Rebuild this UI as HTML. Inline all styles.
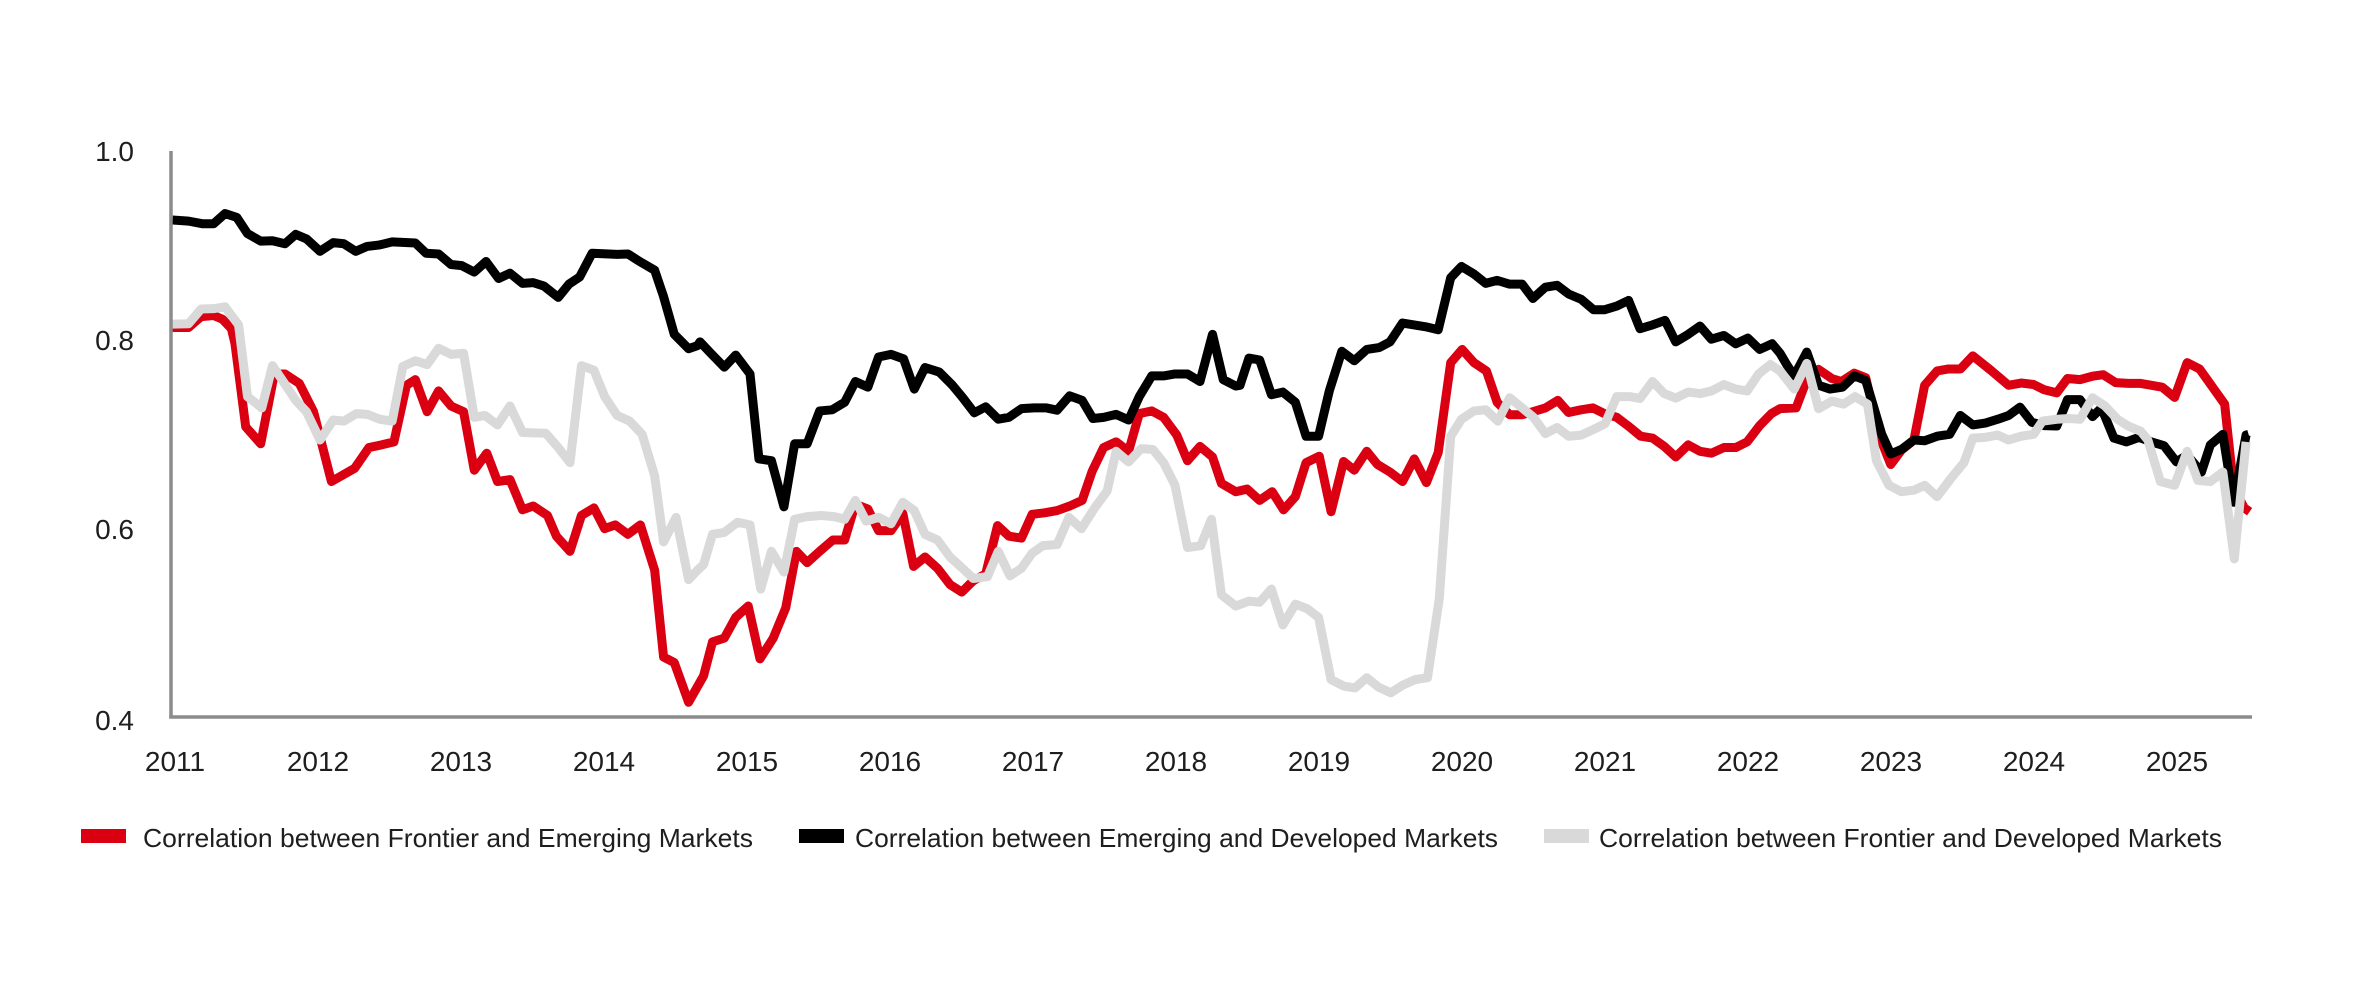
<!DOCTYPE html>
<html>
<head>
<meta charset="utf-8">
<style>
  html, body { margin: 0; padding: 0; background: #ffffff; }
  body { width: 2379px; height: 1001px; overflow: hidden; }
  svg { display: block; }
  text { font-family: "Liberation Sans", "DejaVu Sans", sans-serif; fill: #1e1e1e; }
</style>
</head>
<body>
<svg width="2379" height="1001" viewBox="0 0 2379 1001" xmlns="http://www.w3.org/2000/svg">
  <rect x="0" y="0" width="2379" height="1001" fill="#ffffff"/>

  <!-- Y axis labels -->
  <g font-size="28" text-anchor="end">
    <text x="134" y="161">1.0</text>
    <text x="134" y="350">0.8</text>
    <text x="134" y="539">0.6</text>
    <text x="134" y="730">0.4</text>
  </g>

  <!-- X axis labels -->
  <g font-size="28" text-anchor="middle">
    <text x="175" y="771">2011</text>
    <text x="318" y="771">2012</text>
    <text x="461" y="771">2013</text>
    <text x="604" y="771">2014</text>
    <text x="747" y="771">2015</text>
    <text x="890" y="771">2016</text>
    <text x="1033" y="771">2017</text>
    <text x="1176" y="771">2018</text>
    <text x="1319" y="771">2019</text>
    <text x="1462" y="771">2020</text>
    <text x="1605" y="771">2021</text>
    <text x="1748" y="771">2022</text>
    <text x="1891" y="771">2023</text>
    <text x="2034" y="771">2024</text>
    <text x="2177" y="771">2025</text>
  </g>

  <!-- Series -->
  <g transform="translate(160,140) scale(0.357143,0.377358)" fill="none" stroke-linejoin="round" stroke-linecap="butt">
    <polyline vector-effect="non-scaling-stroke" stroke="#da0012" stroke-width="9" points="35,497 80,497 115,468 150,465 175,475 200,500 210,540 240,760 282,805 320,620 350,620 390,645 430,720 480,905 545,870 585,815 620,808 655,800 690,650 715,635 748,720 780,665 815,705 850,720 880,875 915,830 945,905 980,900 1015,980 1045,970 1085,995 1110,1050 1148,1090 1180,995 1215,975 1245,1030 1275,1020 1310,1045 1345,1020 1385,1140 1410,1370 1440,1385 1480,1490 1522,1420 1547,1330 1580,1320 1612,1265 1647,1235 1680,1375 1717,1320 1752,1240 1782,1090 1812,1120 1847,1090 1884,1060 1917,1060 1947,965 1982,978 2012,1035 2047,1035 2080,990 2110,1130 2142,1105 2177,1135 2212,1178 2245,1198 2277,1168 2312,1150 2345,1022 2377,1050 2412,1055 2442,992 2477,988 2512,982 2547,970 2582,955 2610,878 2642,815 2677,800 2712,825 2742,725 2777,718 2810,735 2847,782 2877,850 2912,812 2947,840 2972,910 3012,932 3044,925 3079,955 3114,932 3146,980 3179,945 3209,855 3246,838 3279,985 3314,852 3344,875 3379,825 3409,860 3444,880 3479,905 3512,845 3546,908 3579,828 3614,590 3646,555 3679,590 3714,612 3744,695 3779,728 3814,728 3844,720 3879,710 3914,690 3944,722 3979,715 4012,710 4044,725 4079,735 4114,760 4146,785 4179,790 4212,812 4244,840 4279,808 4312,825 4344,830 4379,815 4412,815 4444,800 4479,757 4512,725 4536,712 4581,710 4611,635 4644,608 4681,632 4708,640 4744,618 4776,630 4791,690 4821,800 4846,860 4876,822 4911,795 4941,650 4976,612 5006,607 5041,607 5076,572 5126,610 5176,650 5211,644 5246,648 5276,662 5311,670 5341,632 5376,635 5411,626 5441,622 5476,643 5511,645 5546,645 5606,655 5641,682 5676,590 5711,607 5751,660 5781,700 5806,920 5836,975 5851,985"/>
    <polyline vector-effect="non-scaling-stroke" stroke="#000000" stroke-width="9" points="35,212 80,215 120,222 150,222 182,195 215,205 245,248 282,268 315,267 350,275 380,250 410,262 448,295 485,272 515,275 548,295 580,282 615,278 650,270 715,273 745,300 780,302 815,330 845,333 880,350 913,322 948,367 980,353 1015,380 1045,378 1075,387 1115,417 1145,382 1175,363 1210,300 1280,303 1310,302 1345,323 1385,345 1410,415 1440,515 1480,553 1505,545 1512,535 1542,565 1580,602 1612,570 1652,620 1677,845 1712,850 1747,972 1777,805 1812,805 1847,718 1882,715 1917,695 1947,640 1982,655 2012,575 2047,568 2082,580 2112,660 2142,603 2182,615 2217,648 2247,682 2280,723 2312,707 2347,740 2377,735 2412,712 2447,710 2482,710 2512,716 2547,678 2582,690 2612,738 2642,735 2677,727 2712,742 2742,680 2777,625 2812,625 2842,620 2877,620 2912,640 2947,515 2977,635 3012,652 3024,650 3049,578 3079,583 3112,675 3144,668 3179,695 3209,785 3244,785 3274,665 3309,560 3344,585 3379,555 3414,550 3444,535 3479,485 3544,495 3579,503 3614,365 3644,335 3679,355 3712,380 3744,372 3779,382 3814,382 3844,420 3879,390 3912,385 3944,408 3979,422 4014,450 4044,450 4079,440 4112,425 4144,500 4179,490 4214,478 4244,535 4279,515 4312,493 4344,528 4379,518 4412,540 4446,525 4479,555 4514,540 4536,565 4556,597 4576,625 4611,562 4644,650 4676,660 4711,655 4744,625 4776,637 4796,700 4821,780 4846,832 4876,820 4911,795 4941,797 4976,785 5011,780 5041,730 5076,755 5111,750 5146,740 5176,730 5208,708 5241,748 5276,757 5311,758 5341,688 5376,688 5411,733 5436,710 5471,790 5506,800 5541,788 5576,800 5611,810 5646,853 5676,835 5716,880 5741,808 5776,780 5806,960 5841,782 5848,780"/>
    <polyline vector-effect="non-scaling-stroke" stroke="#d9d9d9" stroke-width="9" points="35,488 80,487 115,448 150,447 182,442 220,490 245,680 285,710 315,598 345,640 380,690 410,720 448,795 485,742 515,745 550,725 580,727 615,740 650,745 680,600 715,585 748,595 780,552 815,568 850,565 880,735 910,730 945,755 980,705 1015,775 1080,777 1115,815 1148,855 1180,598 1215,610 1245,680 1280,730 1315,745 1350,780 1385,890 1410,1065 1445,1000 1480,1165 1505,1140 1522,1125 1547,1045 1580,1040 1617,1013 1652,1020 1682,1190 1712,1090 1747,1145 1777,1005 1812,998 1852,995 1887,998 1917,1005 1947,955 1977,1010 2012,1000 2047,1017 2080,960 2112,982 2142,1045 2177,1060 2212,1105 2247,1135 2277,1162 2317,1157 2347,1090 2380,1155 2412,1135 2442,1095 2472,1075 2512,1072 2545,1000 2580,1030 2617,975 2652,930 2677,825 2712,853 2747,818 2780,820 2810,855 2842,915 2877,1080 2914,1075 2944,1005 2972,1205 3012,1235 3049,1222 3079,1225 3112,1190 3144,1285 3179,1230 3212,1242 3244,1265 3279,1430 3314,1447 3346,1452 3379,1425 3412,1450 3446,1465 3479,1445 3514,1430 3549,1425 3582,1215 3614,785 3644,740 3679,718 3712,715 3746,745 3779,683 3814,710 3846,735 3879,778 3912,762 3944,785 3979,782 4014,767 4046,752 4079,680 4114,680 4144,685 4179,640 4212,672 4244,684 4279,668 4312,672 4344,665 4379,648 4412,660 4444,665 4476,620 4509,595 4536,612 4576,660 4611,592 4644,712 4681,692 4714,700 4746,680 4781,700 4806,850 4841,915 4876,932 4911,928 4941,915 4976,945 5016,895 5051,855 5076,790 5111,788 5146,782 5176,795 5211,785 5246,780 5271,745 5311,740 5346,738 5376,740 5411,683 5446,705 5481,740 5511,758 5546,772 5566,795 5601,905 5641,915 5676,825 5706,902 5741,905 5776,880 5808,1110 5841,800"/>
  </g>

  <!-- Axes -->
  <line x1="171" y1="151" x2="171" y2="718.5" stroke="#8c8c8c" stroke-width="3.5"/>
  <line x1="169.25" y1="717" x2="2252" y2="717" stroke="#8c8c8c" stroke-width="3.5"/>

  <!-- Legend -->
  <rect x="81" y="829" width="45" height="14" fill="#da0012"/>
  <text x="143" y="847" font-size="26" textLength="610" lengthAdjust="spacingAndGlyphs">Correlation between Frontier and Emerging Markets</text>
  <rect x="799" y="829" width="45" height="14" fill="#000000"/>
  <text x="855" y="847" font-size="26" textLength="643" lengthAdjust="spacingAndGlyphs">Correlation between Emerging and Developed Markets</text>
  <rect x="1544" y="829" width="45" height="14" fill="#d9d9d9"/>
  <text x="1599" y="847" font-size="26" textLength="623" lengthAdjust="spacingAndGlyphs">Correlation between Frontier and Developed Markets</text>
</svg>
</body>
</html>
